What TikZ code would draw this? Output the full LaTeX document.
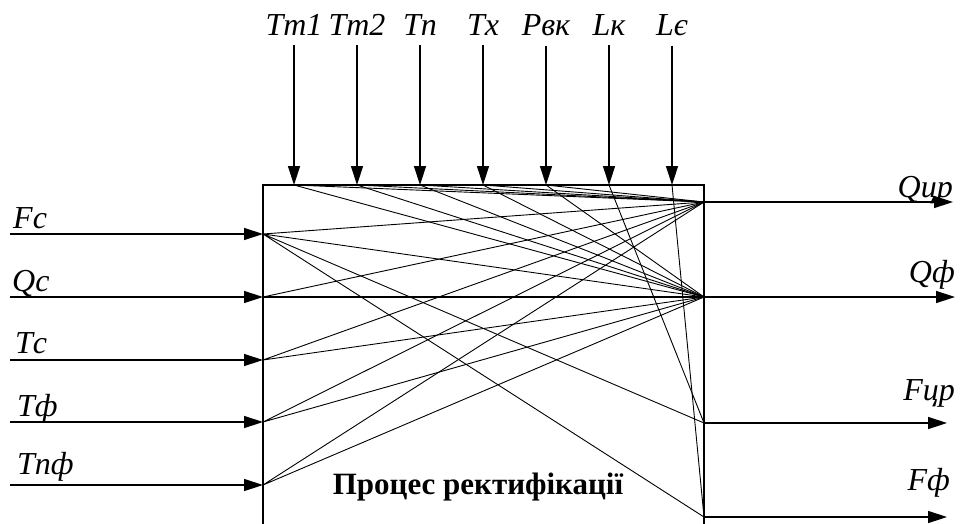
\documentclass[tikz,border=0pt]{standalone}
\usepackage{fontspec}
\setmainfont{Liberation Serif}
\usetikzlibrary{arrows.meta}
\tikzset{
  box/.style={line width=2pt},
  feed/.style={line width=1.4pt, -{Triangle[length=19pt,width=12pt]}},
  link/.style={line width=0.9pt},
  lbl/.style={inner sep=0pt, font=\fontsize{32}{36}\selectfont\itshape},
}
\begin{document}
\begin{tikzpicture}[x=1pt,y=-1pt]
  \useasboundingbox (0,0) rectangle (960,524);
  \clip (0,0) rectangle (960,524);
  % Process block (runs past the lower edge of the picture)
  \draw[box] (263,185) rectangle (704,560);
  \node[font=\fontsize{31}{34}\selectfont\bfseries] (title) at (478,487) {Процес ректифікації};
  % Ports on the top side
  \coordinate (t1) at (294,185);
  \coordinate (t2) at (357,185);
  \coordinate (t3) at (420,185);
  \coordinate (t4) at (483,185);
  \coordinate (t5) at (546,185);
  \coordinate (t6) at (609,185);
  \coordinate (t7) at (672,185);
  % Ports on the left side
  \coordinate (l1) at (263,234);
  \coordinate (l2) at (263,297);
  \coordinate (l3) at (263,360);
  \coordinate (l4) at (263,422);
  \coordinate (l5) at (263,485);
  % Ports on the right side
  \coordinate (r1) at (704,202);
  \coordinate (r2) at (704,297);
  \coordinate (r3) at (704,423);
  \coordinate (r4) at (704,517);
  % Free ends of the input and output arrows
  \coordinate (s1) at (10,234);
  \coordinate (s2) at (10,297);
  \coordinate (s3) at (10,360);
  \coordinate (s4) at (10,422);
  \coordinate (s5) at (10,485);
  \coordinate (e1) at (953,202);
  \coordinate (e2) at (955,297);
  \coordinate (e3) at (947,423);
  \coordinate (e4) at (947,517);

  % Inputs from above
  \node[lbl, anchor=base] (Tt1) at (294,36) {Tт1};
  \node[lbl, anchor=base] (Tt2) at (357,36) {Tт2};
  \node[lbl, anchor=base] (Tp) at (420,36) {Tп};
  \node[lbl, anchor=base] (Th) at (483,36) {Tх};
  \node[lbl, anchor=base] (Pvk) at (546,36) {Pвк};
  \node[lbl, anchor=base] (Lk) at (609,36) {Lк};
  \node[lbl, anchor=base] (Lje) at (672,36) {Lє};
  \draw[feed, shorten <=9pt] (Tt1.south) -- (t1);
  \draw[feed, shorten <=9pt] (Tt2.south) -- (t2);
  \draw[feed, shorten <=9pt] (Tp.south) -- (t3);
  \draw[feed, shorten <=9pt] (Th.south) -- (t4);
  \draw[feed, shorten <=9pt] (Pvk.south) -- (t5);
  \draw[feed, shorten <=9pt] (Lk.south) -- (t6);
  \draw[feed, shorten <=9pt] (Lje.south) -- (t7);

  % Inputs from the left
  \node[lbl, anchor=base west] (Fs) at (13,228) {Fс};
  \node[lbl, anchor=base west] (Qs) at (12,291) {Qс};
  \node[lbl, anchor=base west] (Ts) at (15,353) {Tс};
  \node[lbl, anchor=base west] (Tf) at (17,416) {Tф};
  \node[lbl, anchor=base west] (Tpf) at (17,474) {Tпф};
  \draw[feed] (s1) -- (l1);
  \draw[feed] (s2) -- (l2);
  \draw[feed] (s3) -- (l3);
  \draw[feed] (s4) -- (l4);
  \draw[feed] (s5) -- (l5);

  % Outputs to the right
  \node[lbl, anchor=base east] (Qtsr) at (953,197) {Qцр};
  \node[lbl, anchor=base east] (Qf) at (955,282) {Qф};
  \node[lbl, anchor=base east] (Ftsr) at (955,400) {Fцр};
  \node[lbl, anchor=base east] (Ff) at (950,490) {Fф};
  \draw[feed] (r1) -- (e1);
  \draw[feed] (r2) -- (e2);
  \draw[feed] (r3) -- (e3);
  \draw[feed] (r4) -- (e4);

  % Links inside the block
  \draw[link] (t1) -- (r1) (t1) -- (r2);
  \draw[link] (t2) -- (r1) (t2) -- (r2);
  \draw[link] (t3) -- (r1) (t3) -- (r2);
  \draw[link] (t4) -- (r1) (t4) -- (r2);
  \draw[link] (t5) -- (r1) (t5) -- (r2);
  \draw[link] (t6) -- (r3);
  \draw[link] (t7) -- (r4);
  \draw[link] (l1) -- (r1) (l1) -- (r2) (l1) -- (r3) (l1) -- (r4);
  \draw[link, line width=1.2pt] (l2) -- (r2);
  \draw[link] (l2) -- (r1);
  \draw[link] (l3) -- (r1) (l3) -- (r2);
  \draw[link] (l4) -- (r1) (l4) -- (r2);
  \draw[link] (l5) -- (r1) (l5) -- (r2);
\end{tikzpicture}
\end{document}
